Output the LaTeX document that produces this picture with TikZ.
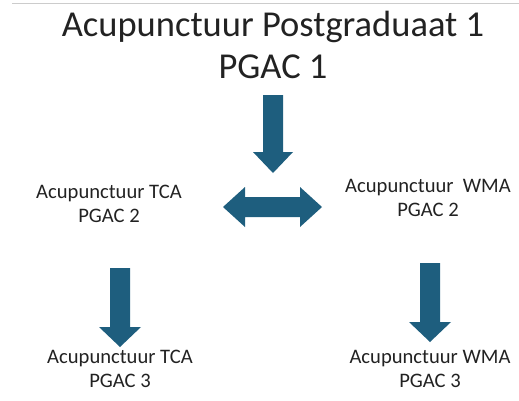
\documentclass[tikz,border=0pt]{standalone}
\usepackage{fontspec}
\setmainfont{Carlito}
\definecolor{arrowblue}{RGB}{30,94,126}
\definecolor{txtgray}{RGB}{34,34,34}
\begin{document}
\begin{tikzpicture}[x=1pt,y=-1pt,
    lbl/.style={font=\fontsize{20.6}{23.5}\selectfont, align=center, text=txtgray, inner sep=0pt},
    blockarrow/.style={fill=arrowblue}]
        \useasboundingbox (0,0) rectangle (519,400);
        \draw[black!20, line width=1pt] (12,3) -- (519,3);

        \node[lbl, font=\fontsize{36.5}{42}\selectfont] (pg1) at (273,45) {Acupunctuur Postgraduaat 1\\PGAC 1};
        \node[lbl] (tca2) at (109,204) {Acupunctuur TCA\\PGAC 2};
        \node[lbl] (wma2) at (428,198) {Acupunctuur\ \ WMA\\PGAC 2};
        \node[lbl] (tca3) at (120,369) {Acupunctuur TCA\\PGAC 3};
        \node[lbl] (wma3) at (430,369) {Acupunctuur WMA\\PGAC 3};

        % down from PGAC 1
        \fill[blockarrow] (263,95) -- (283,95) -- (283,152) -- (293,152) -- (273,173)
            -- (253,152) -- (263,152) -- cycle;
        % between TCA and WMA
        \fill[blockarrow] (223,207) -- (245,187) -- (245,197) -- (300,197) -- (300,187)
            -- (322,207) -- (300,227) -- (300,217) -- (245,217) -- (245,227) -- cycle;
        % TCA 2 to TCA 3
        \fill[blockarrow] (110,268) -- (130,268) -- (130,327) -- (141,327) -- (120,347)
            -- (99,327) -- (110,327) -- cycle;
        % WMA 2 to WMA 3
        \fill[blockarrow] (420,263) -- (440,263) -- (440,322) -- (451,322) -- (430,342)
            -- (409,322) -- (420,322) -- cycle;
\end{tikzpicture}
\end{document}
